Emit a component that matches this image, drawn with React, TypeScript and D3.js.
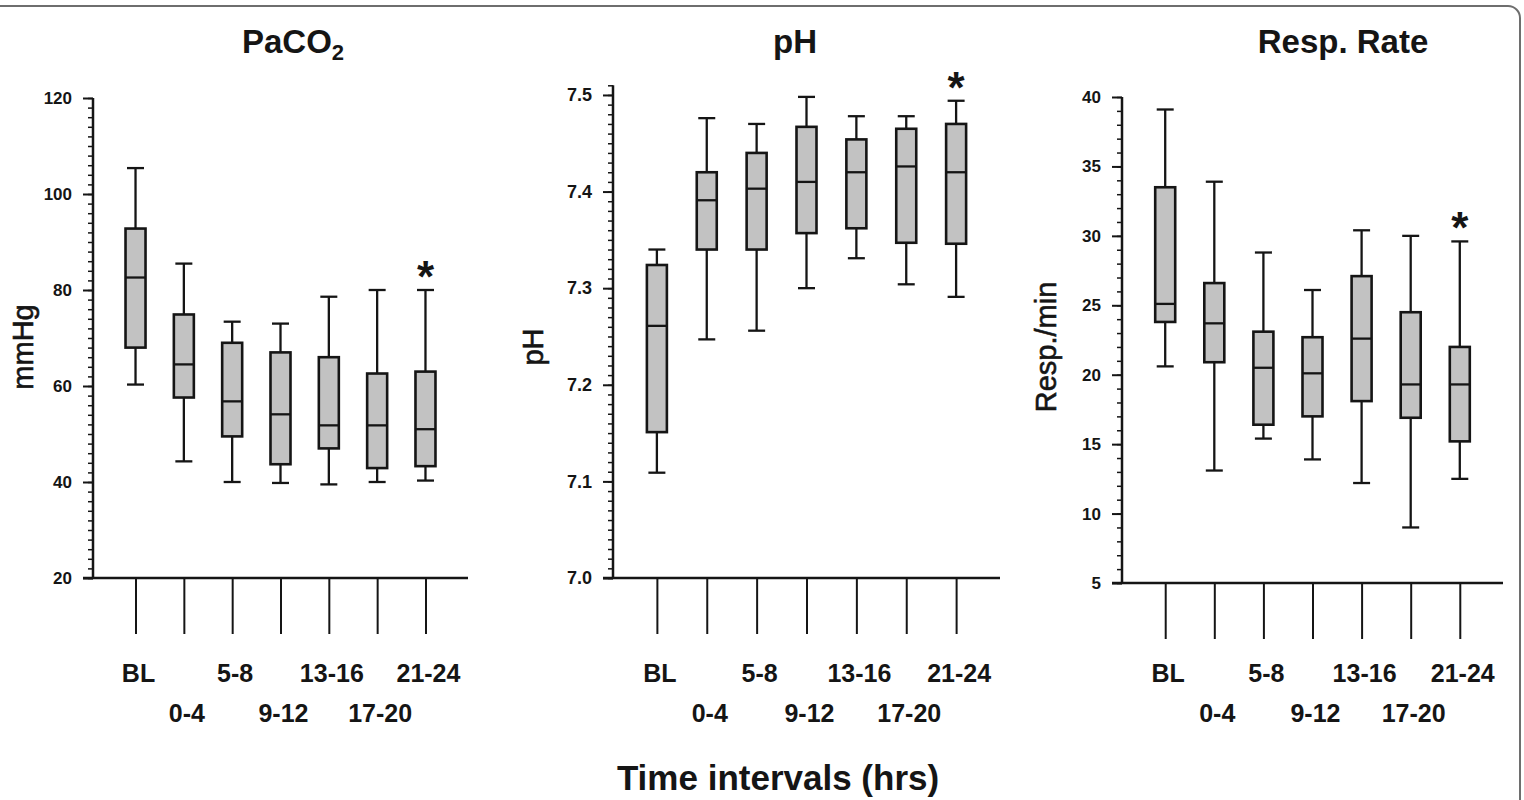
import { useEffect, useRef } from 'react'
import * as d3 from 'd3'

const W = 1524, H = 800
const FONT = "'Liberation Sans', Arial, Helvetica, sans-serif"
const INK = '#151515'
const BOX_FILL = '#c2c2c2'

const CATEGORIES = ['BL', '0-4', '5-8', '9-12', '13-16', '17-20', '21-24']

// PaCO2 (mmHg)
const PACO2_LOW = [60.3, 44.3, 40.0, 39.8, 39.5, 40.0, 40.3]
const PACO2_Q1 = [68.0, 57.6, 49.5, 43.7, 47.0, 42.9, 43.3]
const PACO2_MED = [82.6, 64.5, 56.8, 54.1, 51.8, 51.8, 51.0]
const PACO2_Q3 = [92.8, 74.9, 69.0, 67.0, 66.0, 62.6, 63.0]
const PACO2_HIGH = [105.4, 85.5, 73.4, 73.0, 78.6, 80.0, 80.0]
const PACO2_TICKS = [20, 40, 60, 80, 100, 120]

// pH
const PH_LOW = [7.109, 7.247, 7.256, 7.300, 7.331, 7.304, 7.291]
const PH_Q1 = [7.151, 7.340, 7.340, 7.357, 7.362, 7.347, 7.346]
const PH_MED = [7.261, 7.391, 7.403, 7.410, 7.420, 7.426, 7.420]
const PH_Q3 = [7.324, 7.420, 7.440, 7.467, 7.454, 7.465, 7.470]
const PH_HIGH = [7.340, 7.476, 7.470, 7.498, 7.478, 7.478, 7.494]
const PH_TICKS = [7.0, 7.1, 7.2, 7.3, 7.4, 7.5]

// Respiratory rate (resp./min)
const RR_LOW = [20.6, 13.1, 15.4, 13.9, 12.2, 9.0, 12.5]
const RR_Q1 = [23.8, 20.9, 16.4, 17.0, 18.1, 16.9, 15.2]
const RR_MED = [25.1, 23.7, 20.5, 20.1, 22.6, 19.3, 19.3]
const RR_Q3 = [33.5, 26.6, 23.1, 22.7, 27.1, 24.5, 22.0]
const RR_HIGH = [39.1, 33.9, 28.8, 26.1, 30.4, 30.0, 29.6]
const RR_TICKS = [5, 10, 15, 20, 25, 30, 35, 40]

// interval flagged with an asterisk
const SIGNIFICANT = ['21-24']

const toRows = (lo, q1, med, q3, hi) =>
  CATEGORIES.map((c, i) => ({ cat: c, lo: lo[i], q1: q1[i], med: med[i], q3: q3[i], hi: hi[i] }))

const PANELS = [
  {
    title: 'PaCO', sub: '2', titleX: 293, yLabel: 'mmHg', labelX: 33,
    rows: toRows(PACO2_LOW, PACO2_Q1, PACO2_MED, PACO2_Q3, PACO2_HIGH),
    ticks: PACO2_TICKS, minor: d3.range(0, 51).map(i => 20 + i * 2),
    fmt: d3.format('d'), tickFont: 17,
    yDomain: [20, 120], yRange: [578, 98], xRange: [93, 468],
  },
  {
    title: 'pH', sub: '', titleX: 795, yLabel: 'pH', labelX: 543,
    rows: toRows(PH_LOW, PH_Q1, PH_MED, PH_Q3, PH_HIGH),
    ticks: PH_TICKS, minor: d3.range(0, 52).map(i => 7 + i * 0.01),
    fmt: d3.format('.1f'), tickFont: 18,
    yDomain: [7.0, 7.51], yRange: [578, 85.3], xRange: [613, 1000],
  },
  {
    title: 'Resp. Rate', sub: '', titleX: 1343, yLabel: 'Resp./min', labelX: 1056,
    rows: toRows(RR_LOW, RR_Q1, RR_MED, RR_Q3, RR_HIGH),
    ticks: RR_TICKS, minor: d3.range(5, 41),
    fmt: d3.format('d'), tickFont: 17,
    yDomain: [5, 40], yRange: [583, 97], xRange: [1122, 1503],
  },
]

function drawPanel(svg, p) {
  const x = d3.scalePoint().domain(CATEGORIES).range(p.xRange).padding(0.88)
  const y = d3.scaleLinear().domain(p.yDomain).range(p.yRange)
  const x0 = p.xRange[0], yBase = y(p.yDomain[0])
  const g = svg.append('g')

  // title
  const t = g.append('text').attr('x', p.titleX).attr('y', 53).attr('text-anchor', 'middle')
    .attr('font-family', FONT).attr('font-weight', 'bold').attr('font-size', 33).attr('fill', INK)
  t.append('tspan').text(p.title)
  if (p.sub) t.append('tspan').attr('font-size', 22).attr('dy', 7).text(p.sub)

  // y label
  g.append('text')
    .attr('transform', `translate(${p.labelX},347) rotate(-90)`)
    .attr('text-anchor', 'middle').attr('font-family', FONT).attr('font-size', 29).attr('fill', INK)
    .attr('stroke', INK).attr('stroke-width', 0.6)
    .text(p.yLabel)

  // minor ticks
  g.append('g').attr('transform', `translate(${x0},0)`)
    .call(d3.axisLeft(y).tickValues(p.minor).tickSize(5).tickFormat(() => ''))
    .call(a => a.select('.domain').remove())
    .call(a => a.selectAll('line').attr('stroke', INK).attr('stroke-width', 1.5))

  // major ticks
  g.append('g').attr('transform', `translate(${x0},0)`)
    .call(d3.axisLeft(y).tickValues(p.ticks).tickSize(10).tickPadding(11).tickFormat(p.fmt))
    .call(a => a.select('.domain').remove())
    .call(a => a.selectAll('line').attr('stroke', INK).attr('stroke-width', 2))
    .call(a => a.selectAll('text').attr('font-family', FONT).attr('font-weight', 'bold')
      .attr('font-size', p.tickFont).attr('fill', INK))

  // axis lines
  g.append('line').attr('x1', x0).attr('x2', x0).attr('y1', yBase + 1).attr('y2', y(p.yDomain[1]))
    .attr('stroke', INK).attr('stroke-width', 2.5)
  g.append('line').attr('x1', x0 - 10).attr('x2', p.xRange[1]).attr('y1', yBase).attr('y2', yBase)
    .attr('stroke', INK).attr('stroke-width', 2.5)

  // long category ticks below the x axis
  g.append('g').attr('transform', `translate(0,${yBase})`)
    .call(d3.axisBottom(x).tickSize(56).tickFormat(() => ''))
    .call(a => a.select('.domain').remove())
    .call(a => a.selectAll('line').attr('stroke', INK).attr('stroke-width', 2))

  // category labels, staggered on two rows
  g.selectAll('text.cat').data(CATEGORIES).join('text').attr('class', 'cat')
    .attr('x', d => x(d) + 3).attr('y', (d, i) => (i % 2 === 0 ? 682 : 722))
    .attr('text-anchor', 'middle').attr('font-family', FONT).attr('font-weight', 'bold')
    .attr('font-size', 25).attr('fill', INK).text(d => d)

  const bw = 20, cw = 17
  const box = g.selectAll('g.box').data(p.rows).join('g').attr('class', 'box')
    .attr('transform', d => `translate(${x(d.cat)},0)`)
  box.append('line').attr('y1', d => y(d.hi)).attr('y2', d => y(d.q3))
    .attr('stroke', INK).attr('stroke-width', 2.3)
  box.append('line').attr('y1', d => y(d.q1)).attr('y2', d => y(d.lo))
    .attr('stroke', INK).attr('stroke-width', 2.3)
  box.append('line').attr('x1', -cw / 2).attr('x2', cw / 2).attr('y1', d => y(d.hi)).attr('y2', d => y(d.hi))
    .attr('stroke', INK).attr('stroke-width', 2.3)
  box.append('line').attr('x1', -cw / 2).attr('x2', cw / 2).attr('y1', d => y(d.lo)).attr('y2', d => y(d.lo))
    .attr('stroke', INK).attr('stroke-width', 2.3)
  box.append('rect').attr('x', -bw / 2).attr('width', bw)
    .attr('y', d => y(d.q3)).attr('height', d => y(d.q1) - y(d.q3))
    .attr('fill', BOX_FILL).attr('stroke', INK).attr('stroke-width', 2.6)
  box.append('line').attr('x1', -bw / 2).attr('x2', bw / 2).attr('y1', d => y(d.med)).attr('y2', d => y(d.med))
    .attr('stroke', INK).attr('stroke-width', 2.3)

  // significance markers
  g.selectAll('text.sig').data(p.rows.filter(d => SIGNIFICANT.includes(d.cat))).join('text')
    .attr('class', 'sig').attr('x', d => x(d.cat)).attr('y', d => y(d.hi) - 21 + 23)
    .attr('text-anchor', 'middle').attr('font-family', FONT).attr('font-weight', 'bold')
    .attr('font-size', 44).attr('fill', INK).text('*')
}

export default function App() {
  const ref = useRef(null)

  useEffect(() => {
    const svg = d3.select(ref.current)
    svg.selectAll('*').remove()
    svg.append('rect').attr('width', W).attr('height', H).attr('fill', '#fff')
    svg.append('rect').attr('x', -20).attr('y', 6).attr('width', 1540).attr('height', 900)
      .attr('rx', 12).attr('fill', 'none').attr('stroke', '#6e6e6e').attr('stroke-width', 2)
    PANELS.forEach(p => drawPanel(svg, p))
    svg.append('text').attr('x', 778).attr('y', 790).attr('text-anchor', 'middle')
      .attr('font-family', FONT).attr('font-weight', 'bold').attr('font-size', 35).attr('fill', INK)
      .text('Time intervals (hrs)')
  }, [])

  return (
    <div style={{ position: 'absolute', left: 0, top: 0 }}>
      <svg ref={ref} width={W} height={H} viewBox={`0 0 ${W} ${H}`} style={{ display: 'block' }} />
    </div>
  )
}
